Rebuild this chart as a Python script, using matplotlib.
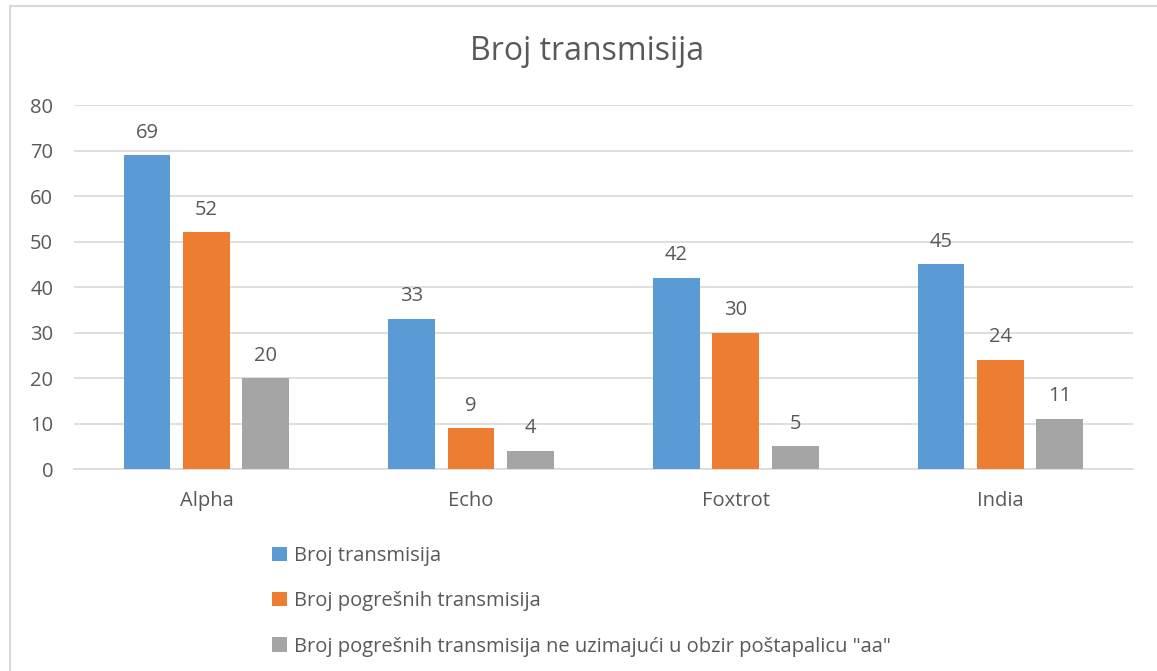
import matplotlib.pyplot as plt
import numpy as np
from matplotlib.patches import Patch
from matplotlib.lines import Line2D

plt.rcParams['font.family'] = ['Open Sans', 'DejaVu Sans']

categories = ["Alpha", "Echo", "Foxtrot", "India"]
series_names = ["Broj transmisija",
                "Broj pogrešnih transmisija",
                "Broj pogrešnih transmisija ne uzimajući u obzir poštapalicu \"aa\""]
total = [69, 33, 42, 45]
wrong = [52, 9, 30, 24]
wrong_no_aa = [20, 4, 5, 11]
colors = ["#5B9BD5", "#ED7D31", "#A5A5A5"]

text_color = "#595959"
grid_color = "#D9D9D9"
fs = 14.5

fig = plt.figure(figsize=(11.57, 6.71), dpi=100)
ax = fig.add_axes([0.064, 0.301, 0.915, 0.5425])

x = np.arange(len(categories))
width = 0.177
offset = 0.2245
for i, (vals, name) in enumerate(zip([total, wrong, wrong_no_aa], series_names)):
    bars = ax.bar(x + (i - 1) * offset, vals, width, color=colors[i], label=name, zorder=3)
    for b, v in zip(bars, vals):
        ax.annotate(str(v), (b.get_x() + b.get_width() / 2, v), xytext=(0, 9),
                    textcoords='offset points', ha='center', va='bottom',
                    fontsize=fs, color=text_color)

ax.set_xlim(-0.5, 3.5)
ax.set_ylim(0, 80)
ax.set_yticks(range(0, 81, 10))
ax.set_xticks(x)
ax.set_xticklabels(categories)
ax.grid(axis='y', color=grid_color, linewidth=1.2, zorder=0)
for s in ['top', 'right', 'left']:
    ax.spines[s].set_visible(False)
ax.spines['bottom'].set_color(grid_color)
ax.spines['bottom'].set_linewidth(1.2)
ax.tick_params(axis='both', length=0, labelsize=fs, colors=text_color)
ax.tick_params(axis='x', pad=16)
ax.tick_params(axis='y', pad=15)

fig.text(0.507, 0.923, "Broj transmisija", ha='center', va='center',
         fontsize=23, color=text_color)

handles = [Patch(facecolor=c) for c in colors]
fig.legend(handles, series_names, loc='upper left', bbox_to_anchor=(0.2285, 0.198),
           frameon=False, fontsize=fs, labelcolor=text_color,
           handlelength=0.7, handleheight=0.7, handletextpad=0.35,
           labelspacing=1.25, borderaxespad=0)

# chart border
fig.add_artist(Line2D([10 / 1157, 10 / 1157], [0, 1 - 6 / 671], color=grid_color,
                      linewidth=1.5, transform=fig.transFigure))
fig.add_artist(Line2D([10 / 1157, 1], [1 - 6 / 671, 1 - 6 / 671], color=grid_color,
                      linewidth=1.5, transform=fig.transFigure))

fig.savefig("out.png", dpi=100, facecolor='white')
